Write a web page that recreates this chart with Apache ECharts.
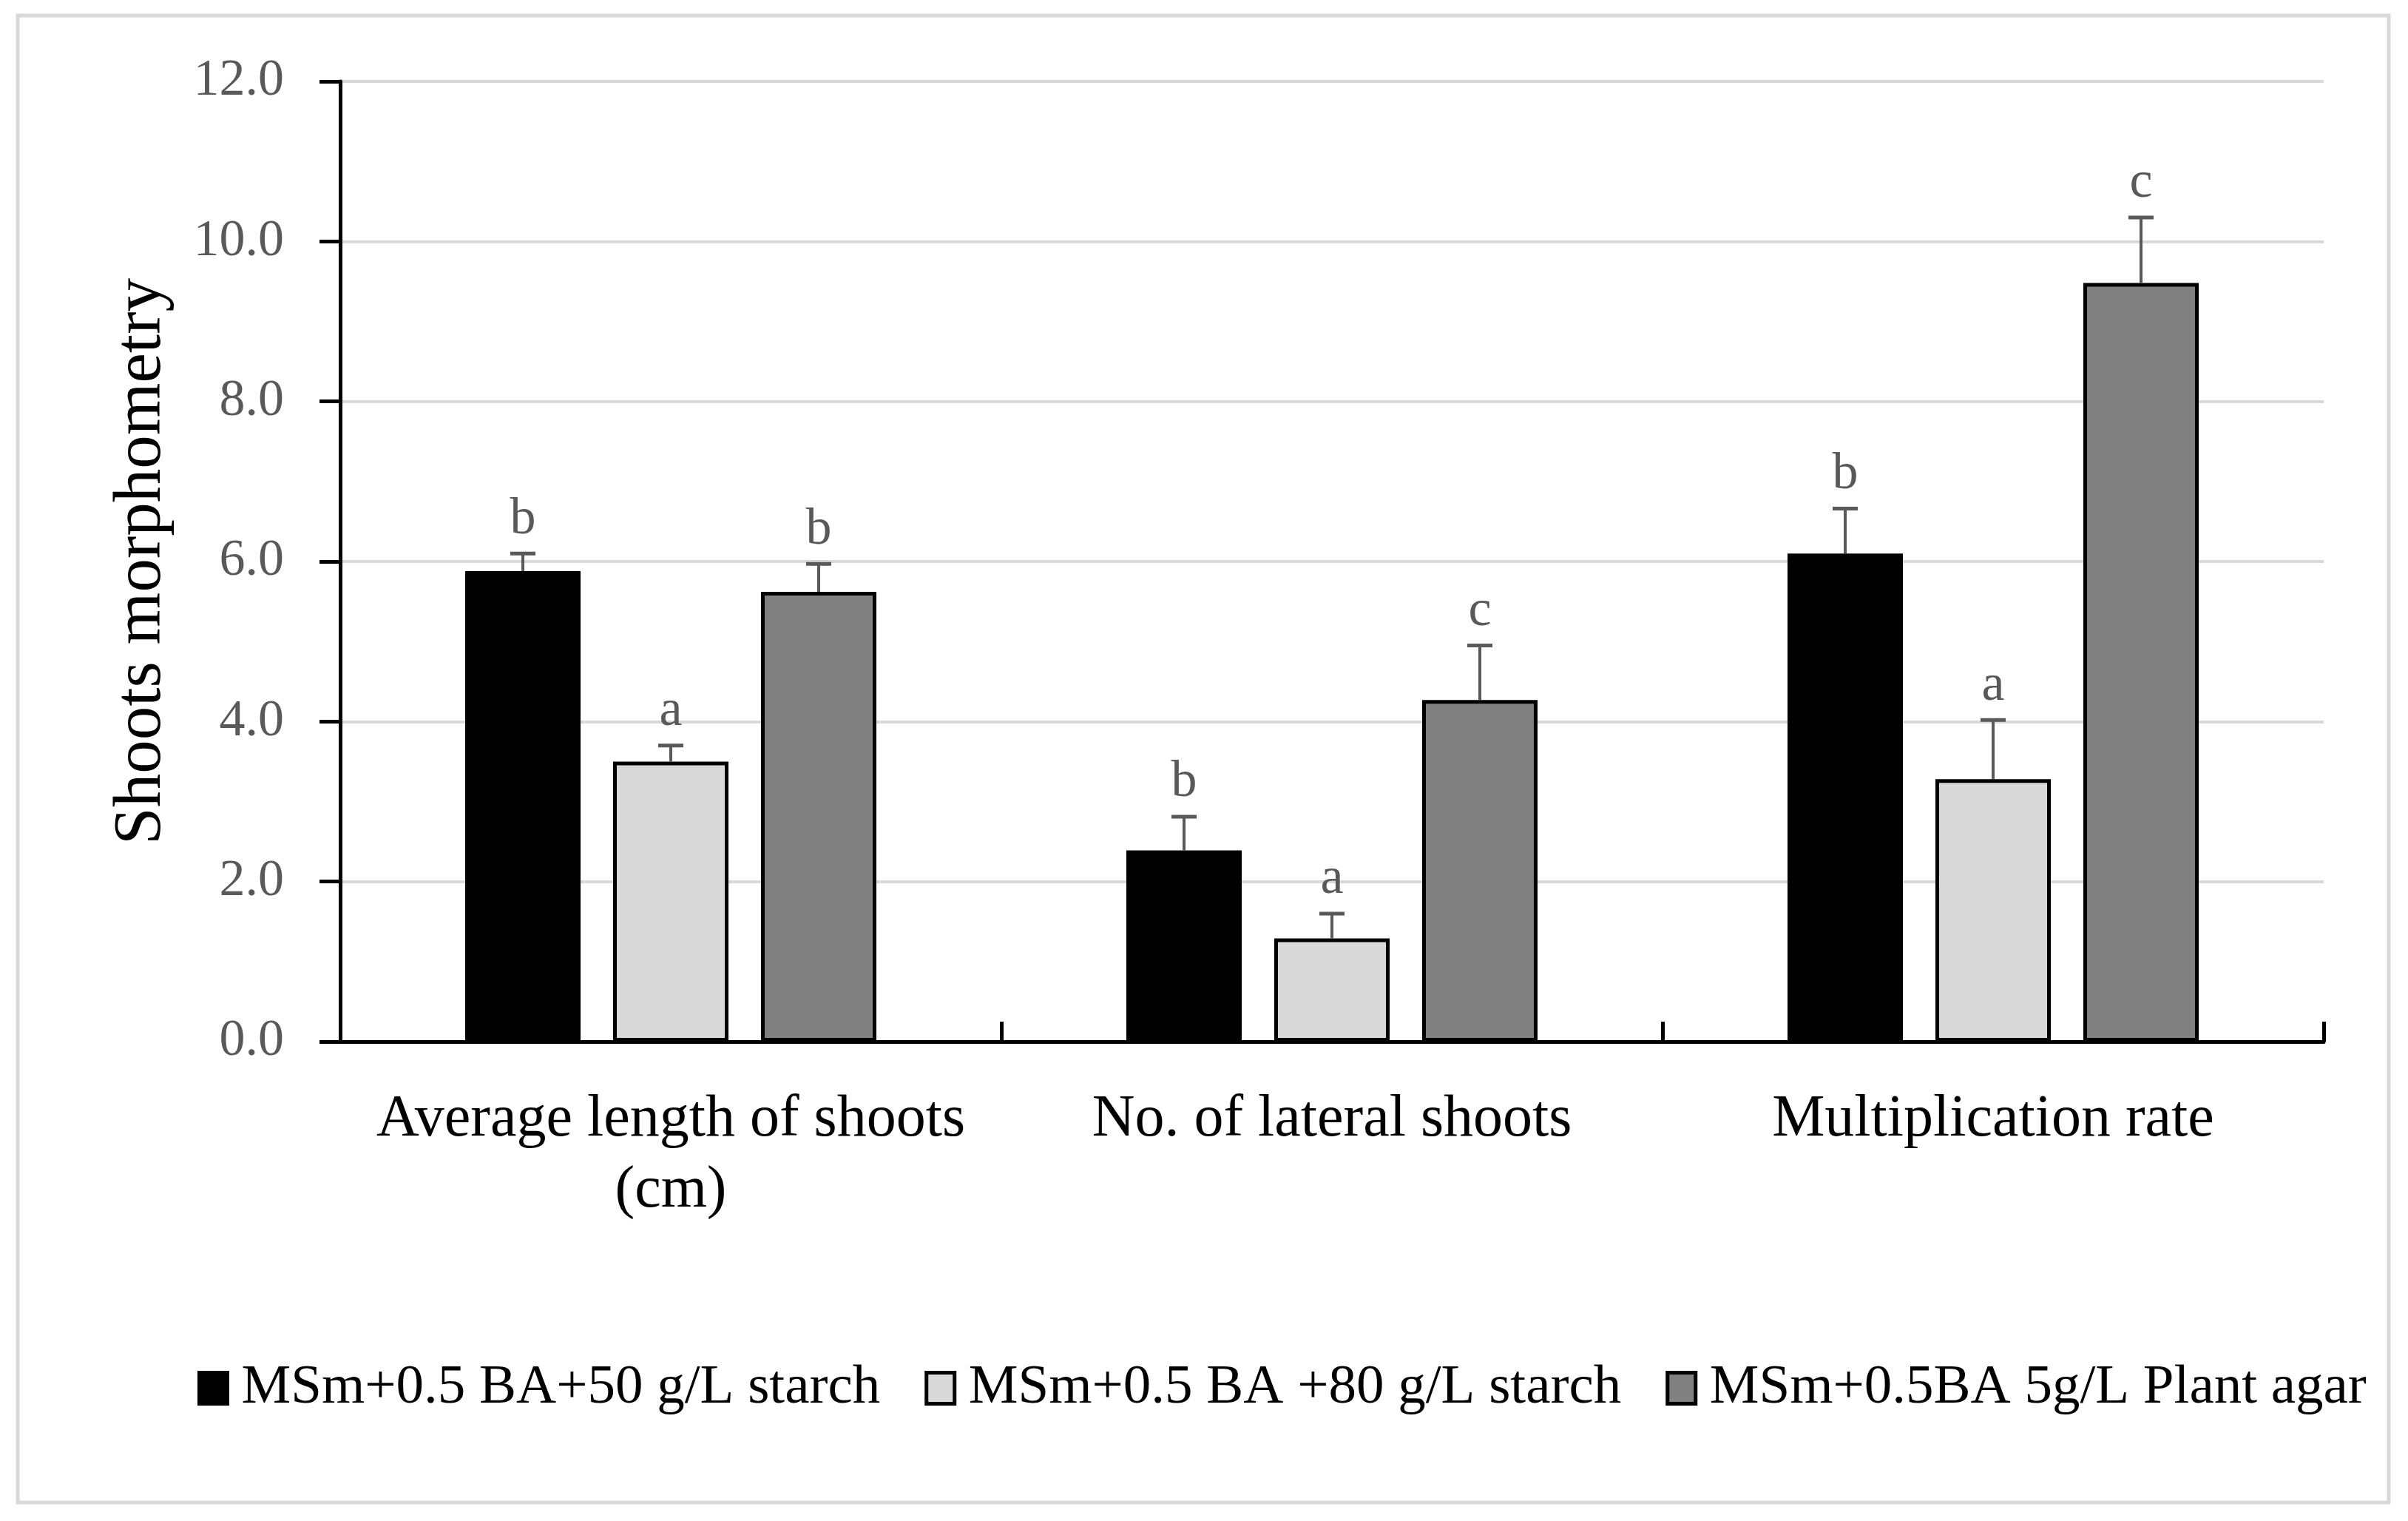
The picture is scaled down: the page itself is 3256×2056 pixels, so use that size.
<!DOCTYPE html>
<html>
<head>
<meta charset="utf-8">
<script src="https://cdn.jsdelivr.net/npm/echarts@6/dist/echarts.min.js"></script>
<style>
html,body{margin:0;padding:0;background:#fff;}
#chart{width:3256px;height:2056px;}
</style>
</head>
<body>
<div id="chart"></div>
<script>
const categories = ['Average length of shoots\n(cm)', 'No. of lateral shoots', 'Multiplication rate'];
const seriesNames = ['MSm+0.5 BA+50 g/L starch', 'MSm+0.5 BA +80 g/L starch', 'MSm+0.5BA 5g/L Plant agar'];
const values50 = [5.88, 2.39, 6.10];
const errors50 = [0.22, 0.42, 0.56];
const letters50 = ['b', 'b', 'b'];
const values80 = [3.50, 1.29, 3.28];
const errors80 = [0.20, 0.31, 0.74];
const letters80 = ['a', 'a', 'a'];
const valuesAgar = [5.62, 4.27, 9.48];
const errorsAgar = [0.35, 0.68, 0.82];
const lettersAgar = ['b', 'c', 'c'];
const yTicks = [0, 2, 4, 6, 8, 10, 12];

const FONT = '"Liberation Serif", "DejaVu Serif", serif';
const BAR_W = 156;
const BAR_GAP = 0.282;
const fills = ['#000000', '#d9d9d9', '#808080'];

const allVals = [values50, values80, valuesAgar];
const allErrs = [errors50, errors80, errorsAgar];
const allLetters = [letters50, letters80, lettersAgar];

const chart = echarts.init(document.getElementById('chart'), null, {renderer: 'canvas'});

const barSeries = seriesNames.map((name, s) => ({
  name: name,
  type: 'bar',
  data: allVals[s],
  barWidth: BAR_W,
  barGap: (BAR_GAP * 100) + '%',
  itemStyle: {color: fills[s], borderColor: '#000', borderWidth: 5},
  emphasis: {disabled: true},
  z: 2
}));

const errSeries = seriesNames.map((name, s) => ({
  type: 'custom',
  name: name + ' err',
  data: categories.map((c, i) => [i, allVals[s][i], allErrs[s][i]]),
  z: 5,
  silent: true,
  renderItem: function (params, api) {
    const idx = api.value(0);
    const v = api.value(1);
    const e = api.value(2);
    const letter = allLetters[s][params.dataIndex];
    const off = (s - 1) * BAR_W * (1 + BAR_GAP);
    const base = api.coord([idx, v]);
    const top = api.coord([idx, v + e]);
    const x = base[0] + off;
    const capW = 34;
    return {
      type: 'group',
      children: [
        {type: 'line', shape: {x1: x, y1: base[1], x2: x, y2: top[1]}, style: {stroke: '#595959', lineWidth: 4}},
        {type: 'line', shape: {x1: x - capW / 2, y1: top[1], x2: x + capW / 2, y2: top[1]}, style: {stroke: '#595959', lineWidth: 5}},
        {type: 'text', style: {text: letter, x: x, y: top[1] - 11, align: 'center', verticalAlign: 'bottom', fontSize: 70, fontFamily: FONT, fill: '#595959'}}
      ]
    };
  }
}));

const option = {
  backgroundColor: '#ffffff',
  animation: false,
  graphic: [{
    type: 'rect', shape: {x: 24, y: 21, width: 3206, height: 2010},
    style: {fill: 'none', stroke: '#d9d9d9', lineWidth: 5}, z: 0, silent: true
  }],
  grid: {left: 460, right: 114, top: 110, bottom: 648, containLabel: false},
  legend: {
    data: seriesNames,
    left: 262,
    top: 1834,
    icon: 'rect',
    itemWidth: 38,
    itemHeight: 42,
    itemGap: 60,
    itemStyle: {borderColor: '#000', borderWidth: 5},
    textStyle: {fontSize: 75, fontFamily: FONT, color: '#000', padding: [0, 0, 0, 14]},
    selectedMode: false
  },
  xAxis: {
    type: 'category',
    data: categories,
    axisLine: {show: true, lineStyle: {color: '#000', width: 5}},
    axisTick: {show: true, inside: true, length: 27, lineStyle: {color: '#000', width: 5}, alignWithLabel: false},
    axisLabel: {fontSize: 80, fontFamily: FONT, color: '#000', margin: 58, lineHeight: 96, interval: 0},
    splitLine: {show: false}
  },
  yAxis: {
    type: 'value',
    min: yTicks[0],
    max: yTicks[yTicks.length - 1],
    interval: 2,
    name: 'Shoots morphometry',
    nameLocation: 'middle',
    nameRotate: 90,
    nameGap: 222,
    nameTextStyle: {fontSize: 91, fontFamily: FONT, color: '#000'},
    axisLine: {show: true, lineStyle: {color: '#000', width: 5}},
    axisTick: {show: true, length: 28, lineStyle: {color: '#000', width: 5}},
    axisLabel: {fontSize: 70, fontFamily: FONT, color: '#595959', margin: 76, formatter: v => v.toFixed(1)},
    splitLine: {show: true, lineStyle: {color: '#d9d9d9', width: 4}}
  },
  series: barSeries.concat(errSeries)
};
chart.setOption(option);
</script>
</body>
</html>
